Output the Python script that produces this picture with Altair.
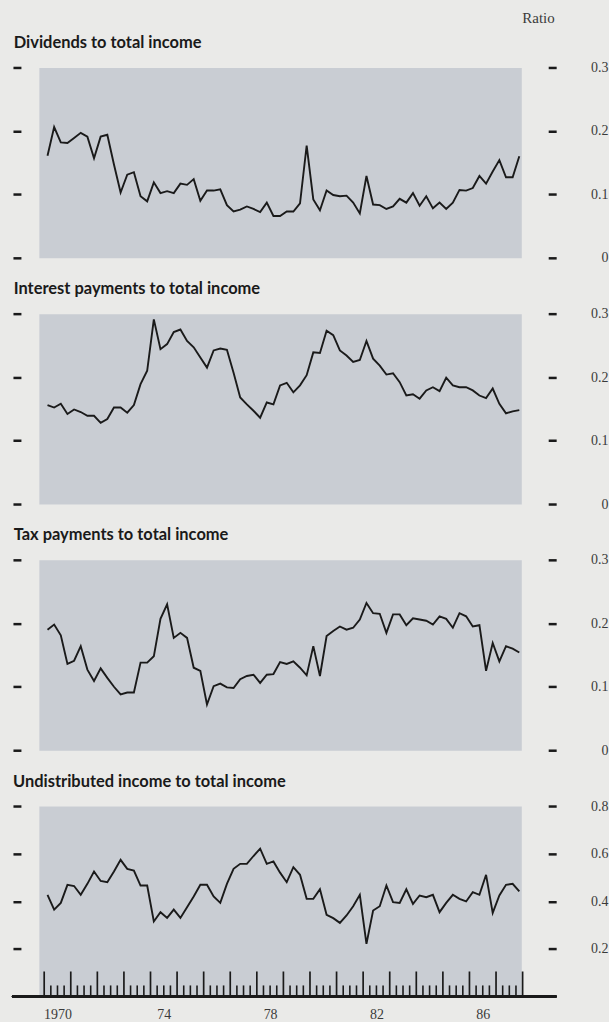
import altair as alt
import pandas as pd

START_YEAR = 1970
END_YEAR = 1987

dividends = [0.161, 0.206, 0.182, 0.181, 0.189, 0.197, 0.191, 0.157, 0.191, 0.194,
             0.147, 0.103, 0.131, 0.135, 0.097, 0.089, 0.119, 0.102, 0.105, 0.102,
             0.117, 0.115, 0.124, 0.090, 0.106, 0.106, 0.108, 0.083, 0.073, 0.076,
             0.081, 0.077, 0.072, 0.087, 0.066, 0.066, 0.073, 0.073, 0.086, 0.177,
             0.092, 0.075, 0.106, 0.099, 0.097, 0.098, 0.087, 0.070, 0.129, 0.084,
             0.083, 0.077, 0.081, 0.093, 0.087, 0.102, 0.082, 0.097, 0.078, 0.087,
             0.077, 0.087, 0.107, 0.106, 0.110, 0.129, 0.117, 0.136, 0.154, 0.127,
             0.127, 0.160]

interest = [0.156, 0.152, 0.158, 0.142, 0.149, 0.145, 0.139, 0.139, 0.128, 0.134,
            0.152, 0.152, 0.144, 0.156, 0.189, 0.210, 0.291, 0.244, 0.252, 0.271,
            0.275, 0.257, 0.247, 0.231, 0.215, 0.242, 0.245, 0.243, 0.207, 0.168,
            0.157, 0.147, 0.136, 0.160, 0.157, 0.187, 0.191, 0.176, 0.187, 0.203,
            0.239, 0.238, 0.273, 0.266, 0.242, 0.234, 0.224, 0.227, 0.257, 0.229,
            0.218, 0.204, 0.206, 0.192, 0.171, 0.173, 0.166, 0.179, 0.184, 0.178,
            0.199, 0.187, 0.184, 0.184, 0.179, 0.171, 0.167, 0.182, 0.158, 0.143,
            0.146, 0.148]

tax = [0.190, 0.198, 0.181, 0.136, 0.141, 0.164, 0.127, 0.109, 0.129, 0.114,
       0.100, 0.088, 0.091, 0.091, 0.138, 0.138, 0.148, 0.207, 0.230, 0.177,
       0.185, 0.177, 0.130, 0.125, 0.072, 0.101, 0.105, 0.099, 0.098, 0.112,
       0.117, 0.119, 0.106, 0.119, 0.120, 0.139, 0.136, 0.140, 0.130, 0.118,
       0.164, 0.117, 0.180, 0.188, 0.195, 0.190, 0.193, 0.206, 0.232, 0.216,
       0.215, 0.185, 0.214, 0.214, 0.197, 0.208, 0.206, 0.204, 0.198, 0.211,
       0.207, 0.193, 0.216, 0.211, 0.195, 0.197, 0.125, 0.169, 0.140, 0.164,
       0.160, 0.154]

undistributed = [0.427, 0.365, 0.393, 0.469, 0.464, 0.427, 0.473, 0.525, 0.485, 0.480,
                 0.525, 0.574, 0.536, 0.529, 0.466, 0.466, 0.315, 0.354, 0.330, 0.365,
                 0.330, 0.375, 0.420, 0.469, 0.469, 0.420, 0.393, 0.473, 0.536, 0.557,
                 0.557, 0.590, 0.621, 0.557, 0.567, 0.520, 0.480, 0.543, 0.511, 0.410,
                 0.410, 0.450, 0.343, 0.329, 0.309, 0.340, 0.379, 0.427, 0.221, 0.361,
                 0.379, 0.466, 0.396, 0.393, 0.450, 0.389, 0.424, 0.417, 0.427, 0.354,
                 0.393, 0.427, 0.410, 0.399, 0.438, 0.427, 0.511, 0.351, 0.424, 0.469,
                 0.473, 0.441]

panel_titles = ["Dividends to total income",
                "Interest payments to total income",
                "Tax payments to total income",
                "Undistributed income to total income"]
small_ticks = [0, 0.1, 0.2, 0.3]
large_ticks = [0.2, 0.4, 0.6, 0.8]
label_years = [1970, 1974, 1978, 1982, 1986]
year_labels = ["1970", "74", "78", "82", "86"]

# quarter mid-points
quarter_pos = [y + (q - 0.5) / 4 for y in range(START_YEAR, END_YEAR + 1) for q in range(1, 5)]
major_ticks = pd.DataFrame({"t": list(range(START_YEAR, END_YEAR + 2))})
minor_ticks = pd.DataFrame({"t": [y + f for y in range(START_YEAR, END_YEAR + 1) for f in (0.25, 0.5, 0.75)]})

W, H = 484, 191
XDOM = [1969.8, 1987.95]
SERIF = "Liberation Serif"
INK = "#1a1a1a"
LABEL = "#3a3a3a"

xscale = alt.Scale(domain=XDOM, nice=False, zero=False)

label_expr = " : ".join(
    [f"datum.value == {y + 0.5} ? '{lab}'" for y, lab in zip(label_years, year_labels)]
) + " : ''"


def left_axis(ticks):
    return alt.Axis(orient="left", values=ticks, labels=False, domain=False, grid=False,
                    ticks=True, tickSize=8, tickWidth=2.5, tickColor=INK, offset=18, title=None)


def right_axis(ticks):
    return alt.Axis(orient="right", values=ticks, domain=False, grid=False, ticks=True,
                    tickSize=8, tickWidth=2.5, tickColor=INK, offset=27, title=None,
                    labelExpr="datum.value == 0 ? '0' : format(datum.value, '.1f')",
                    labelAlign="right", labelPadding=52, labelFont=SERIF, labelFontSize=14,
                    labelColor=LABEL, labelBaseline="middle")


def panel(title, vals, ymax, ticks, bottom=False):
    df = pd.DataFrame({"t": quarter_pos, "v": vals})
    yscale = alt.Scale(domain=[0, ymax], nice=False, zero=True)
    if bottom:
        xaxis = alt.Axis(values=[y + 0.5 for y in label_years], labelExpr=label_expr, ticks=False,
                         domain=False, grid=False, labelFont=SERIF, labelFontSize=14,
                         labelColor=LABEL, labelPadding=11, title=None)
    else:
        xaxis = None
    xenc = alt.X("t:Q", scale=xscale, axis=xaxis)
    line = alt.Chart(df).mark_line(color=INK, strokeWidth=1.9).encode(
        x=xenc,
        y=alt.Y("v:Q", scale=yscale, axis=left_axis(ticks)),
    )
    ghost = alt.Chart(df).mark_line(opacity=0).encode(
        x=xenc,
        y=alt.Y("v:Q", scale=yscale, axis=right_axis(ticks)),
    )
    layers = [line, ghost]
    if bottom:
        major = alt.Chart(major_ticks).mark_rule(color=INK, strokeWidth=1.7).encode(
            x=xenc,
            y=alt.value(H - 25), y2=alt.value(H),
        )
        minor = alt.Chart(minor_ticks).mark_rule(color=INK, strokeWidth=1.6).encode(
            x=xenc,
            y=alt.value(H - 11), y2=alt.value(H),
        )
        baseline = alt.Chart(major_ticks).mark_rule(color=INK, strokeWidth=2).encode(
            x=alt.value(-27), x2=alt.value(519), y=alt.value(H),
        )
        layers += [major, minor, baseline]
    return alt.layer(*layers).resolve_scale(y="independent").properties(
        width=W, height=H,
        title=alt.TitleParams(title, anchor="start", font="Lato", fontSize=16.5,
                              fontWeight="bold", color=INK, offset=9, dx=2),
    )


p1 = panel(panel_titles[0], dividends, 0.3, small_ticks)
p2 = panel(panel_titles[1], interest, 0.3, small_ticks)
p3 = panel(panel_titles[2], tax, 0.3, small_ticks)
p4 = panel(panel_titles[3], undistributed, 0.8, large_ticks, bottom=True)

chart = alt.vconcat(p1, p2, p3, p4, spacing=15).properties(
    title=alt.TitleParams("Ratio", anchor="end", dx=-54, font=SERIF, fontSize=15,
                          fontWeight="normal", color=LABEL, offset=9),
    padding={"left": 10, "top": 9, "right": 0, "bottom": 0},
    background="#eaeae8",
).configure_view(fill="#c9cdd3", stroke="transparent")

chart.save("out.html", embed_options={"renderer": "svg", "actions": False})
